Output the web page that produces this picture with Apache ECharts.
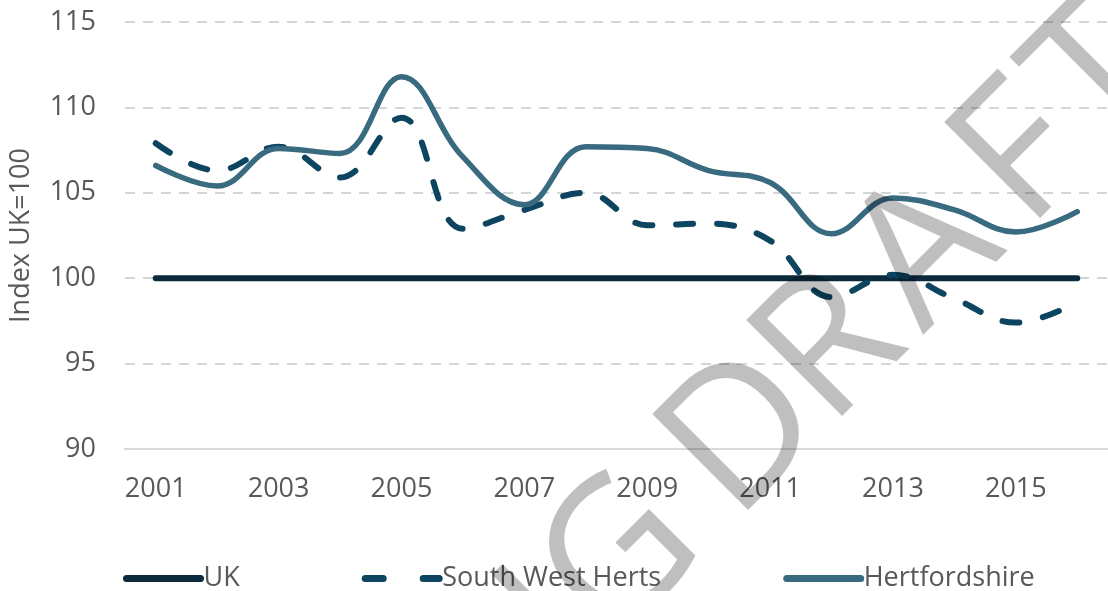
<!DOCTYPE html>
<html>
<head>
<meta charset="utf-8">
<script src="https://cdn.jsdelivr.net/npm/echarts@6/dist/echarts.min.js"></script>
<style>
  html, body { margin: 0; padding: 0; background: #fff; }
  #chart { width: 1108px; height: 591px; }
</style>
</head>
<body>
<div id="chart"></div>
<script>
// data
var years = ['2001', '2002', '2003', '2004', '2005', '2006', '2007', '2008',
  '2009', '2010', '2011', '2012', '2013', '2014', '2015', '2016'];
var ukValues = [100, 100, 100, 100, 100, 100, 100, 100, 100, 100, 100, 100, 100, 100, 100, 100];
var swHertsValues = [107.9, 106.3, 107.7, 105.9, 109.4, 102.9, 104.0, 105.0,
  103.1, 103.2, 102.2, 98.9, 100.2, 98.8, 97.4, 98.6];
var hertsValues = [106.6, 105.4, 107.6, 107.3, 111.8, 107.1, 104.3, 107.7,
  107.6, 106.3, 105.6, 102.6, 104.7, 104.0, 102.7, 103.9];
var yTicks = { min: 90, max: 115, step: 5 };

var font = '"Open Sans", "Noto Sans", sans-serif';
var textGrey = '#595959';
var noSymbol = { color: 'rgba(0,0,0,0)', borderWidth: 0 };

// watermark letters, laid out along a 45 degree baseline
var markFont = '190px "Open Sans", sans-serif';
var markFill = 'rgba(0,0,0,0.25)';
var markShift = [14, 24];
var markLetters = [
  { t: 'WORKING', x: 724, y: 554, align: 'right' },
  { t: 'D', x: 750, y: 528 },
  { t: 'R', x: 844, y: 434 },
  { t: 'A', x: 938, y: 340 },
  { t: 'F', x: 1042, y: 236 },
  { t: 'T', x: 1119, y: 159 }
];
var watermark = markLetters.map(function (m) {
  return {
    type: 'text',
    x: m.x + markShift[0],
    y: m.y + markShift[1],
    rotation: Math.PI / 4,
    z: 100,
    silent: true,
    style: {
      text: m.t,
      x: 0,
      y: 0,
      textAlign: m.align || 'left',
      textVerticalAlign: 'bottom',
      font: markFont,
      fill: markFill
    }
  };
});

var chart = echarts.init(document.getElementById('chart'));
var option = {
  animation: false,
  textStyle: { fontFamily: font },
  grid: {
    left: 124,
    top: 22,
    width: 992,
    height: 427
  },
  xAxis: {
    type: 'category',
    data: years,
    boundaryGap: true,
    axisLine: { lineStyle: { color: '#d9d9d9', width: 2 } },
    axisTick: { show: false },
    axisLabel: {
      interval: 1,
      color: textGrey,
      fontSize: 27,
      fontFamily: font,
      margin: 27
    }
  },
  yAxis: {
    type: 'value',
    min: yTicks.min,
    max: yTicks.max,
    interval: yTicks.step,
    name: 'Index UK=100',
    nameLocation: 'middle',
    nameGap: 90,
    nameTextStyle: { color: textGrey, fontSize: 27, fontFamily: font },
    axisLine: { show: false },
    axisTick: { show: false },
    axisLabel: { color: textGrey, fontSize: 27, fontFamily: font, margin: 29 },
    splitLine: {
      showMinLine: false,
      lineStyle: { color: '#d3d6d9', width: 2, type: [10, 8] }
    }
  },
  legend: {
    left: 118,
    top: 560,
    itemGap: 122,
    itemWidth: 74,
    itemHeight: 14,
    textStyle: { color: textGrey, fontSize: 27, fontFamily: font, padding: [0, 0, 0, -2] },
    data: [
      { name: 'UK', itemStyle: noSymbol, lineStyle: { width: 7, cap: 'round' } },
      { name: 'South West Herts', itemStyle: noSymbol, lineStyle: { width: 7, type: [18, 40], cap: 'round' } },
      { name: 'Hertfordshire', itemStyle: noSymbol, lineStyle: { width: 7, cap: 'round' } }
    ]
  },
  series: [
    {
      name: 'UK',
      type: 'line',
      data: ukValues,
      symbol: 'none',
      color: '#0b2a3b',
      lineStyle: { width: 6, color: '#0b2a3b', cap: 'round' },
      z: 3
    },
    {
      name: 'South West Herts',
      type: 'line',
      data: swHertsValues,
      symbol: 'none',
      smooth: 0.4,
      color: '#0d4560',
      lineStyle: { width: 6, color: '#0d4560', type: [17, 24], cap: 'round' },
      z: 4
    },
    {
      name: 'Hertfordshire',
      type: 'line',
      data: hertsValues,
      symbol: 'none',
      smooth: 0.4,
      color: '#386a80',
      lineStyle: { width: 5.5, color: '#386a80', cap: 'round' },
      z: 5
    }
  ],
  graphic: watermark
};
chart.setOption(option);
</script>
</body>
</html>
